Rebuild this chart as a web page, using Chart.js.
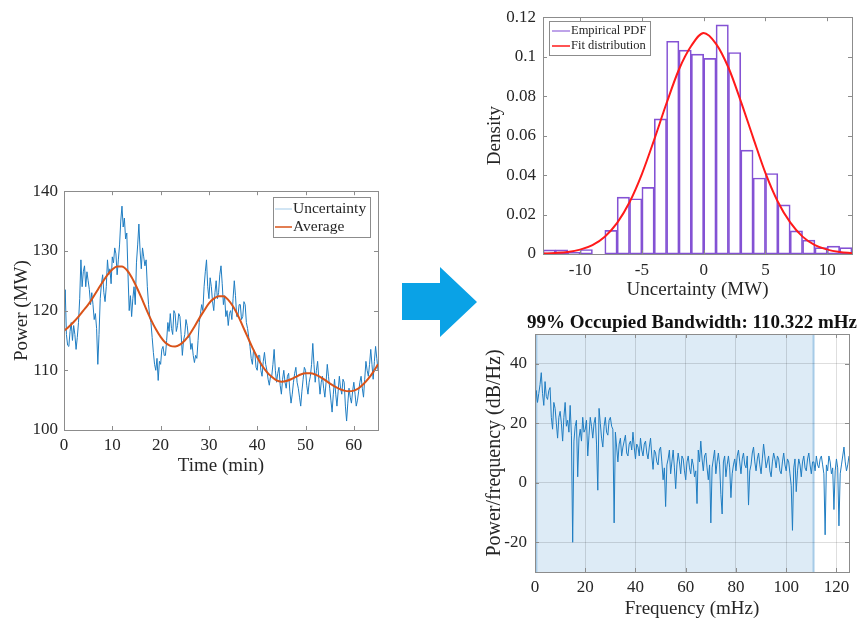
<!DOCTYPE html>
<html lang="en">
<head>
<meta charset="UTF-8">
<title>Power uncertainty analysis</title>
<style>
    body { margin: 0; background: #fff; width: 862px; height: 622px; overflow: hidden; }
    canvas, svg { position: absolute; }
</style>
</head>
<body>
<svg width="862" height="622" style="left:0;top:0">
    <polygon points="402,283 440,283 440,267 477,302 440,337 440,320 402,320" fill="#0aa2e6"/>
</svg>
<canvas id="power-chart" width="390" height="302" style="left:0;top:175px"></canvas>
<canvas id="pdf-chart" width="382" height="305" style="left:480px;top:0"></canvas>
<canvas id="psd-chart" width="382" height="317" style="left:480px;top:305px"></canvas>

<script src="https://cdn.jsdelivr.net/npm/chart.js"></script>
<script>
const FONT = "'Liberation Serif', 'Times New Roman', serif";
const INK = '#262626';

// --- power over time (sampled every 0.25 min) ---
const uncertaintyStep = 0.25;
const uncertainty = [
    117.0, 123.5, 116.0, 114.2, 114.0, 116.5, 118.0, 115.0,
    117.5, 116.0, 113.5, 115.5, 118.0, 122.0, 128.5, 124.0,
    126.5, 127.5, 124.0, 126.5, 125.0, 123.5, 121.0, 123.0,
    121.0, 118.5, 119.5, 117.0, 111.0, 116.0, 122.0, 124.5,
    126.0, 123.0, 121.5, 124.0, 128.5, 126.0, 127.0, 124.5,
    129.0, 128.0, 130.5, 129.5, 126.0, 128.5, 131.0, 135.0,
    137.5, 134.0, 135.5, 132.0, 133.0, 126.0, 120.0, 122.5,
    119.0, 122.0, 124.0, 121.0, 128.0, 131.0, 134.5, 130.0,
    127.0, 130.5, 129.0, 127.5, 128.5, 124.0, 121.0, 119.0,
    118.0, 115.5, 113.0, 111.0, 110.0, 112.0, 108.3, 111.5,
    111.0, 113.5, 114.0, 112.5, 112.5, 115.0, 118.0, 116.5,
    119.5, 117.0, 116.0, 120.0, 119.5, 116.5, 117.5, 119.5,
    119.0, 116.0, 112.5, 115.0, 116.0, 118.5, 117.5, 115.5,
    116.0, 113.5, 114.5, 112.5, 111.3, 112.5, 112.0, 115.0,
    118.0, 119.5, 121.0, 120.0, 124.0, 126.5, 128.5, 124.0,
    122.0, 125.5, 124.0, 121.5, 120.0, 123.0, 125.0, 122.0,
    123.0, 126.0, 127.5, 124.5, 121.0, 122.5, 119.0, 120.0,
    117.5, 119.5, 120.0, 118.5, 122.0, 125.0, 122.5, 119.0,
    119.0, 121.0, 121.0, 118.5, 119.0, 121.5, 121.0, 118.0,
    117.0, 115.5, 114.0, 112.0, 111.0, 113.5, 113.0, 110.5,
    110.0, 112.5, 112.5, 110.0, 109.0, 111.5, 113.0, 111.0,
    110.0, 108.5, 107.5, 109.0, 109.0, 111.0, 113.5, 110.0,
    108.0, 109.5, 110.5, 107.5, 106.0, 108.5, 110.0, 108.0,
    107.0, 109.0, 109.5, 106.5, 104.5, 106.0, 108.0, 109.5,
    110.5, 108.0, 107.0, 105.5, 104.0, 106.5, 108.5, 110.5,
    110.0, 107.5, 106.0, 108.0, 109.0, 111.0, 114.5, 111.0,
    108.0, 110.0, 111.5, 108.5, 106.0, 108.0, 109.0, 107.0,
    105.5, 108.0, 111.0, 109.0, 107.0, 105.0, 103.0, 106.0,
    108.5, 106.0, 104.0, 106.5, 109.0, 107.0, 106.0, 108.5,
    108.0, 104.0, 101.5, 104.5, 107.0, 105.5, 104.5, 106.5,
    108.0, 106.0, 104.0, 105.0, 106.5, 108.0, 109.0, 107.0,
    105.5, 108.5, 111.5, 110.0, 109.0, 111.0, 113.5, 111.0,
    108.5, 111.5, 114.0, 112.0, 110.0
];
// smoothed trend, one value per minute
const averageStep = 1;
const average = [
    116.6, 117.3, 118.1, 119.0, 120.0, 121.0, 122.2, 123.5, 124.8, 126.0,
    126.9, 127.4, 127.4, 126.8, 125.6, 124.0, 122.2, 120.3, 118.5, 116.9,
    115.6, 114.6, 114.1, 114.0, 114.3, 115.0, 116.0, 117.3, 118.7, 120.0,
    121.2, 122.0, 122.4, 122.4, 121.8, 120.7, 119.2, 117.4, 115.6, 113.8,
    112.2, 110.8, 109.7, 108.9, 108.3, 108.1, 108.2, 108.5, 108.9, 109.3,
    109.5, 109.5, 109.3, 108.9, 108.4, 107.8, 107.3, 106.9, 106.6, 106.5,
    106.6, 107.0, 107.7, 108.6, 109.7, 111.0
];
const timeTicks = [0, 10, 20, 30, 40, 50, 60];
const powerTicks = [100, 110, 120, 130, 140];

// --- histogram of the deviation, 1 MW bins from -13 MW ---
const binStart = -13;
const binWidth = 1;
const empiricalPdf = [
    0.0021, 0.0021, 0.0008, 0.0023, 0, 0.012, 0.0288, 0.028, 0.0338, 0.0685,
    0.1078, 0.1033, 0.1013, 0.0991, 0.1161, 0.1021, 0.0526, 0.0385, 0.0408, 0.0249,
    0.0117, 0.007, 0.0032, 0.004, 0.0032
];
const fitX = [-13, -12, -11, -10, -9, -8, -7, -6, -5, -4, -3, -2, -1, 0, 1, 2, 3, 4, 5, 6, 7, 8, 9, 10, 11, 12];
const fitPdf = [
    0.0002, 0.0005, 0.001, 0.0022, 0.0045, 0.0088, 0.0158, 0.0262, 0.0405, 0.058,
    0.0765, 0.0935, 0.1055, 0.112, 0.1065, 0.0945, 0.0775, 0.059, 0.041, 0.0265,
    0.016, 0.0088, 0.0045, 0.0022, 0.001, 0.0004
];
const deviationTicks = [-10, -5, 0, 5, 10];
const densityTicks = [0, 0.02, 0.04, 0.06, 0.08, 0.1, 0.12];
const densityLabels = ['0', '0.02', '0.04', '0.06', '0.08', '0.1', '0.12'];

// --- power spectral density, every 0.5 mHz ---
const freqStep = 0.5;
const psd = [
    24, 31, 27, 30, 33, 37, 30, 26, 34, 29,
    28, 31, 32, 22, 18, 27, 25, 20, 15, 22,
    24, 20, 14, 22, 27, 19, 21, 17, 26, 16,
    -20, 14, 19, 21, 2, 15, 18, 14, 22, 17,
    18, 21, 9, 16, 22, 19, 15, 20, 22, 13,
    -2.5, 25, 20, 15, 12, 19, 22, 17, 16, 21,
    22, 19, 18, -13.5, 17, 12, 7, 13, 15, 9,
    12, 14, 16, 10, 9, 13, 14, 11, 17, 12,
    8, 13, 12, 9, 15, 11, 9, 13, 14, 10,
    8, 12, 15, 9, 4.5, 11, 10, 7, 6, 11,
    12, 7, 1, 5, -8, 6, 8, 11, 3, 7,
    11, 5, -2, 6, 10, 7, 3, 9, 8, 4,
    1, 7, 9, 5, 3, 8, 6, 2, 4, -7,
    11, 7, 14, 8, 4, 9, 10, 5, 1, 6,
    -13.5, 5, 8, 11, 3, 7, 10, 6, -4, -10.5,
    7, 9, 2, 6, 9, 5, -5, 3, 6, 8,
    4, 9, 11, 7, 3, 8, 10, 6, 5, 9,
    -7.5, 4, 6, 10, 12, 7, 4, 8, 10, 6,
    3, 8, 13, 9, 5, 7, 9, 4, 2, 7,
    10, 8, 5, 9, 8, 4, 3, 7, 10, 6,
    4, 8, 7, 3, -1, -16, 5, 8, -3, 4,
    8, 6, 2, 7, 9, 5, 4, 8, 10, 6,
    3, 7, 7, 4, 9, 6, 5, 8, 9, 6,
    3, -17.5, 6, 4, 9, 7, 3, 5, -9, 4,
    8, 5, -14.5, 3, 6, 9, 12, 7, 4, 6, 9
];
const freqTicks = [0, 20, 40, 60, 80, 100, 120];
const dbTicks = [-20, 0, 20, 40];
const bandStart = 0.55;
const occupiedBw = 110.322;

Chart.defaults.font.family = FONT;
Chart.defaults.color = INK;

const toPoints = (values, step, start = 0) => values.map((v, i) => ({ x: start + i * step, y: v }));

// box around the plot area with inward tick marks on all four sides
const frame = {
    id: 'frame',
    afterDatasetsDraw(chart) {
        const { ctx, chartArea: a, scales: { x, y } } = chart;
        const len = 4;
        ctx.save();
        ctx.strokeStyle = '#8c8c8c';
        ctx.lineWidth = 1;
        ctx.beginPath();
        x.ticks.forEach(t => {
            const px = Math.round(x.getPixelForValue(t.value)) + 0.5;
            ctx.moveTo(px, a.bottom); ctx.lineTo(px, a.bottom - len);
            ctx.moveTo(px, a.top); ctx.lineTo(px, a.top + len);
        });
        y.ticks.forEach(t => {
            const py = Math.round(y.getPixelForValue(t.value)) + 0.5;
            ctx.moveTo(a.left, py); ctx.lineTo(a.left + len, py);
            ctx.moveTo(a.right, py); ctx.lineTo(a.right - len, py);
        });
        ctx.stroke();
        ctx.strokeRect(Math.round(a.left) + 0.5, Math.round(a.top) + 0.5, Math.round(a.width), Math.round(a.height));
        ctx.restore();
    }
};

// legend box drawn inside the axes
const boxLegend = {
    id: 'boxLegend',
    afterDraw(chart, args, o) {
        const { ctx, chartArea: a } = chart;
        const x = Math.round(a.left + o.x), y = Math.round(a.top + o.y);
        ctx.save();
        ctx.fillStyle = '#fff';
        ctx.fillRect(x, y, o.w, o.h);
        ctx.strokeStyle = '#8c8c8c';
        ctx.lineWidth = 1;
        ctx.strokeRect(x + 0.5, y + 0.5, o.w, o.h);
        ctx.font = o.size + 'px ' + FONT;
        ctx.textBaseline = 'middle';
        chart.data.datasets.forEach((ds, i) => {
            const cy = y + o.first + i * o.step;
            ctx.strokeStyle = ds.legendColor || ds.borderColor;
            ctx.lineWidth = 1.5;
            ctx.beginPath();
            ctx.moveTo(x + o.sample[0], cy);
            ctx.lineTo(x + o.sample[1], cy);
            ctx.stroke();
            ctx.fillStyle = INK;
            ctx.fillText(ds.label, x + o.sample[1] + 1, cy);
        });
        ctx.restore();
    }
};

// shaded occupied band
const band = {
    id: 'band',
    beforeDraw(chart, args, o) {
        const { ctx, chartArea: a, scales: { x } } = chart;
        const x0 = x.getPixelForValue(o.from);
        const x1 = x.getPixelForValue(o.to);
        ctx.save();
        ctx.fillStyle = '#ddebf6';
        ctx.fillRect(x0, a.top, x1 - x0, a.height);
        ctx.strokeStyle = '#a6cbe7';
        ctx.lineWidth = 2;
        ctx.beginPath();
        ctx.moveTo(x0, a.top); ctx.lineTo(x0, a.bottom);
        ctx.moveTo(x1, a.top); ctx.lineTo(x1, a.bottom);
        ctx.stroke();
        ctx.restore();
    }
};

const topTitle = {
    id: 'topTitle',
    afterDraw(chart, args, o) {
        const { ctx, chartArea: a } = chart;
        ctx.save();
        ctx.font = 'bold ' + o.size + 'px ' + FONT;
        ctx.fillStyle = '#111';
        ctx.textAlign = 'center';
        ctx.textBaseline = 'middle';
        ctx.fillText(o.text, (a.left + a.right) / 2, o.y);
        ctx.restore();
    }
};

function axis(o) {
    const vertical = !!o.width;
    const cfg = {
        type: 'linear',
        min: o.min,
        max: o.max,
        offset: false,
        afterBuildTicks: s => { s.ticks = o.ticks.map(v => ({ value: v })); },
        afterFit: s => { if (vertical) s.width = o.width; else s.height = o.height; },
        grid: { display: !!o.grid, color: 'rgba(0,0,0,0.13)', drawTicks: false },
        border: { display: false },
        ticks: { padding: o.pad, font: { size: 17 }, color: INK, maxRotation: 0, autoSkip: false },
        title: {
            display: true,
            text: o.title,
            color: INK,
            font: { size: o.titleSize || 19, lineHeight: 1.2 },
            padding: vertical ? { top: o.titlePad, bottom: 0 } : { top: 0, bottom: o.titlePad }
        }
    };
    if (o.labels) cfg.ticks.callback = v => o.labels[o.ticks.indexOf(v)];
    return cfg;
}

new Chart(document.getElementById('power-chart'), {
    type: 'line',
    data: {
        datasets: [{
            label: 'Uncertainty',
            data: toPoints(uncertainty, uncertaintyStep),
            borderColor: '#1f7dc2',
            legendColor: '#c2dcf0',
            borderWidth: 1,
            pointRadius: 0,
            tension: 0,
            order: 1
        }, {
            label: 'Average',
            data: toPoints(average, averageStep),
            borderColor: '#d95319',
            borderWidth: 2,
            pointRadius: 0,
            cubicInterpolationMode: 'monotone',
            order: 0
        }]
    },
    options: {
        responsive: false,
        animation: false,
        layout: { padding: { left: 0, top: 13, right: 12, bottom: 0 } },
        plugins: {
            legend: { display: false },
            tooltip: { enabled: false },
            boxLegend: { x: 209, y: 6, w: 97, h: 40, first: 12, step: 18, size: 15.5, sample: [2, 19] }
        },
        scales: {
            x: axis({ min: 0, max: 65, ticks: timeTicks, height: 47, pad: 5, title: 'Time (min)', titlePad: 0 }),
            y: axis({ min: 100, max: 140, ticks: powerTicks, width: 64, pad: 6, title: 'Power (MW)', titlePad: 11 })
        }
    },
    plugins: [frame, boxLegend]
});

new Chart(document.getElementById('pdf-chart'), {
    type: 'bar',
    data: {
        datasets: [{
            label: 'Empirical PDF',
            data: toPoints(empiricalPdf, binWidth, binStart + binWidth / 2),
            borderColor: '#8452d4',
            legendColor: '#a884e2',
            backgroundColor: 'rgba(255,255,255,0)',
            borderWidth: 1,
            borderSkipped: false,
            barPercentage: 1,
            categoryPercentage: 1,
            order: 1
        }, {
            type: 'line',
            label: 'Fit distribution',
            data: fitX.map((x, i) => ({ x, y: fitPdf[i] })),
            borderColor: '#ff1a1a',
            borderWidth: 2,
            pointRadius: 0,
            cubicInterpolationMode: 'monotone',
            order: 0
        }]
    },
    options: {
        responsive: false,
        animation: false,
        layout: { padding: { left: 0, top: 15, right: 10, bottom: 0 } },
        plugins: {
            legend: { display: false },
            tooltip: { enabled: false },
            boxLegend: { x: 6, y: 4, w: 101, h: 34, first: 10, step: 15, size: 12.5, sample: [3, 21] }
        },
        scales: {
            x: axis({ min: -13, max: 12, ticks: deviationTicks, height: 51, pad: 6, title: 'Uncertainty (MW)', titlePad: 4 }),
            y: axis({ min: 0, max: 0.12, ticks: densityTicks, labels: densityLabels, width: 63, pad: 7, title: 'Density', titlePad: 4 })
        }
    },
    plugins: [frame, boxLegend]
});

new Chart(document.getElementById('psd-chart'), {
    type: 'line',
    data: {
        datasets: [{
            label: 'PSD',
            data: toPoints(psd, freqStep),
            borderColor: '#1f7dc2',
            borderWidth: 1,
            pointRadius: 0,
            tension: 0
        }]
    },
    options: {
        responsive: false,
        animation: false,
        layout: { padding: { left: 0, top: 29, right: 13, bottom: 0 } },
        plugins: {
            legend: { display: false },
            tooltip: { enabled: false },
            band: { from: bandStart, to: bandStart + occupiedBw },
            topTitle: { text: '99% Occupied Bandwidth: ' + occupiedBw.toFixed(3) + ' mHz', y: 18, size: 19 }
        },
        scales: {
            x: axis({ min: 0, max: 125, ticks: freqTicks, height: 50, pad: 5, grid: true, title: 'Frequency (mHz)', titlePad: 2 }),
            y: axis({ min: -30, max: 50, ticks: dbTicks, width: 55, pad: 8, grid: true, title: 'Power/frequency (dB/Hz)', titleSize: 20, titlePad: 3 })
        }
    },
    plugins: [band, frame, topTitle]
});
</script>
</body>
</html>
